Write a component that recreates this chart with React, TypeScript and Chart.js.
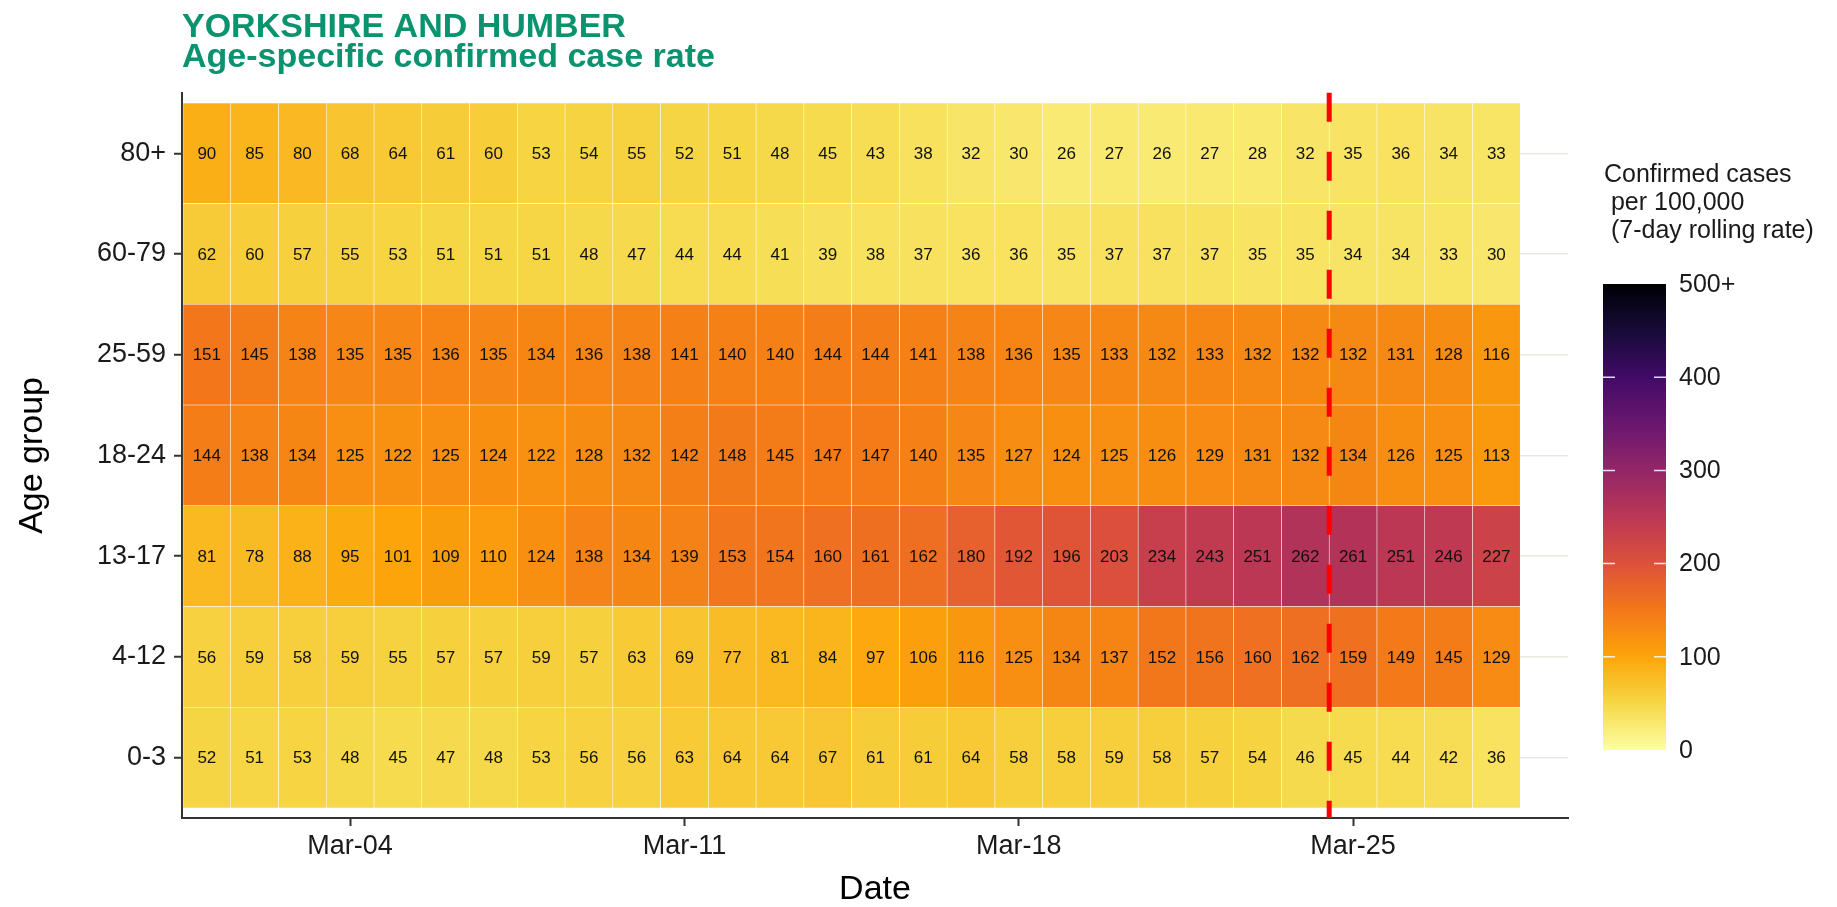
import React, { useEffect, useRef } from 'react';
import { Chart, registerables } from 'chart.js';

Chart.register(...registerables);

const FONT = '"Liberation Sans", Arial, Helvetica, sans-serif';

// ---------- data ----------
const dateLabels = [
  'Mar-01', 'Mar-02', 'Mar-03', 'Mar-04', 'Mar-05', 'Mar-06', 'Mar-07',
  'Mar-08', 'Mar-09', 'Mar-10', 'Mar-11', 'Mar-12', 'Mar-13', 'Mar-14',
  'Mar-15', 'Mar-16', 'Mar-17', 'Mar-18', 'Mar-19', 'Mar-20', 'Mar-21',
  'Mar-22', 'Mar-23', 'Mar-24', 'Mar-25', 'Mar-26', 'Mar-27', 'Mar-28',
];
const dayNumbers = [
  1, 2, 3, 4, 5, 6, 7, 8, 9, 10, 11, 12, 13, 14,
  15, 16, 17, 18, 19, 20, 21, 22, 23, 24, 25, 26, 27, 28,
];
// bottom to top
const ageGroups = ['0-3', '4-12', '13-17', '18-24', '25-59', '60-79', '80+'];

const rate0to3 = [52, 51, 53, 48, 45, 47, 48, 53, 56, 56, 63, 64, 64, 67, 61, 61, 64, 58, 58, 59, 58, 57, 54, 46, 45, 44, 42, 36];
const rate4to12 = [56, 59, 58, 59, 55, 57, 57, 59, 57, 63, 69, 77, 81, 84, 97, 106, 116, 125, 134, 137, 152, 156, 160, 162, 159, 149, 145, 129];
const rate13to17 = [81, 78, 88, 95, 101, 109, 110, 124, 138, 134, 139, 153, 154, 160, 161, 162, 180, 192, 196, 203, 234, 243, 251, 262, 261, 251, 246, 227];
const rate18to24 = [144, 138, 134, 125, 122, 125, 124, 122, 128, 132, 142, 148, 145, 147, 147, 140, 135, 127, 124, 125, 126, 129, 131, 132, 134, 126, 125, 113];
const rate25to59 = [151, 145, 138, 135, 135, 136, 135, 134, 136, 138, 141, 140, 140, 144, 144, 141, 138, 136, 135, 133, 132, 133, 132, 132, 132, 131, 128, 116];
const rate60to79 = [62, 60, 57, 55, 53, 51, 51, 51, 48, 47, 44, 44, 41, 39, 38, 37, 36, 36, 35, 37, 37, 37, 35, 35, 34, 34, 33, 30];
const rate80plus = [90, 85, 80, 68, 64, 61, 60, 53, 54, 55, 52, 51, 48, 45, 43, 38, 32, 30, 26, 27, 26, 27, 28, 32, 35, 36, 34, 33];

const seriesByGroup = [rate0to3, rate4to12, rate13to17, rate18to24, rate25to59, rate60to79, rate80plus];

const xTickDays = [4, 11, 18, 25];
const cutoffDay = 24.5;

const legendTitle = ['Confirmed cases', ' per 100,000', ' (7-day rolling rate)'];
const legendTickValues = [0, 100, 200, 300, 400, 500];
const legendTickLabels = ['0', '100', '200', '300', '400', '500+'];
const legendMax = 500;

// inferno palette (reversed via value mapping)
const infernoStops = [
  '#000004', '#160B39', '#420A68', '#6A176E', '#932667', '#BC3754',
  '#DD513A', '#F37819', '#FCA50A', '#F6D746', '#FCFFA4',
];

function hexToRgb(h: string) {
  return [parseInt(h.slice(1, 3), 16), parseInt(h.slice(3, 5), 16), parseInt(h.slice(5, 7), 16)];
}

function colorFor(v: number) {
  const t = Math.max(0, Math.min(1, 1 - v / legendMax));
  const pos = t * (infernoStops.length - 1);
  const i = Math.min(infernoStops.length - 2, Math.floor(pos));
  const f = pos - i;
  const a = hexToRgb(infernoStops[i]);
  const b = hexToRgb(infernoStops[i + 1]);
  const c = a.map((ch, k) => Math.round(ch + (b[k] - ch) * f));
  return `rgb(${c[0]},${c[1]},${c[2]})`;
}

// ---------- overlay plugin ----------
const overlayPlugin = {
  id: 'overlay',
  afterDatasetsDraw(chart: any) {
    const ctx = chart.ctx;
    ctx.save();
    ctx.font = `17px ${FONT}`;
    ctx.fillStyle = '#111111';
    ctx.textAlign = 'center';
    ctx.textBaseline = 'middle';
    chart.data.datasets.forEach((_ds: any, di: number) => {
      const meta = chart.getDatasetMeta(di);
      meta.data.forEach((el: any, i: number) => {
        const p = el.getProps(['x', 'y', 'base'], true);
        ctx.fillText(String(seriesByGroup[di][i]), p.x, (p.y + p.base) / 2 + 1);
      });
    });

    const xs = chart.scales.x;
    const area = chart.chartArea;
    const cx = xs.getPixelForValue(cutoffDay);
    ctx.strokeStyle = '#FF0000';
    ctx.lineWidth = 5;
    ctx.setLineDash([29, 30]);
    ctx.beginPath();
    ctx.moveTo(cx, area.top);
    ctx.lineTo(cx, area.bottom);
    ctx.stroke();
    ctx.restore();
  },
  afterDraw(chart: any) {
    const ctx = chart.ctx;
    ctx.save();
    // legend title
    ctx.font = `25px ${FONT}`;
    ctx.fillStyle = '#1a1a1a';
    ctx.textAlign = 'left';
    ctx.textBaseline = 'alphabetic';
    const tx = 1604;
    ctx.fillText(legendTitle[0], tx, 182);
    ctx.fillText(legendTitle[1], tx, 210);
    ctx.fillText(legendTitle[2], tx, 238);

    // colour bar
    const barL = 1603, barR = 1666, barTop = 284, barBot = 750;
    const toY = (v: number) => barBot - (v / legendMax) * (barBot - barTop);
    const grad = ctx.createLinearGradient(0, barBot, 0, barTop);
    for (let k = 0; k <= 50; k++) {
      const v = (k / 50) * legendMax;
      grad.addColorStop(k / 50, colorFor(v));
    }
    ctx.fillStyle = grad;
    ctx.fillRect(barL, barTop, barR - barL, barBot - barTop);

    ctx.strokeStyle = 'rgba(255,255,255,0.85)';
    ctx.lineWidth = 1.5;
    legendTickValues.forEach((v) => {
      if (v === 0 || v === legendMax) return;
      const y = toY(v);
      ctx.beginPath();
      ctx.moveTo(barL, y); ctx.lineTo(barL + 12, y);
      ctx.moveTo(barR - 12, y); ctx.lineTo(barR, y);
      ctx.stroke();
    });

    ctx.fillStyle = '#1a1a1a';
    ctx.font = `25px ${FONT}`;
    ctx.textBaseline = 'middle';
    legendTickValues.forEach((v, i) => {
      ctx.fillText(legendTickLabels[i], 1679, toY(v) + 1);
    });
    ctx.restore();
  },
};

export default function App() {
  const canvasRef = useRef<HTMLCanvasElement | null>(null);

  useEffect(() => {
    if (!canvasRef.current) return;
    Chart.defaults.font.family = FONT;
    Chart.defaults.color = '#1a1a1a';

    const datasets = seriesByGroup.map((vals, row) => ({
      label: ageGroups[row],
      data: vals.map((_v, i) => ({ x: dayNumbers[i], y: [row - 0.5, row + 0.5] })),
      backgroundColor: vals.map((v) => colorFor(v)),
      borderColor: 'rgba(255,255,255,0.28)',
      borderWidth: 0.6,
      borderSkipped: false,
      grouped: false,
      barPercentage: 1,
      categoryPercentage: 1,
    }));

    const chart = new Chart(canvasRef.current, {
      type: 'bar',
      data: { datasets: datasets as any },
      options: {
        responsive: false,
        devicePixelRatio: 1,
        animation: false,
        layout: { padding: { left: 0, right: 269, top: 0, bottom: 0 } },
        plugins: {
          legend: { display: false },
          tooltip: { enabled: false },
          title: {
            display: true,
            text: ['YORKSHIRE AND HUMBER', 'Age-specific confirmed case rate'],
            align: 'start',
            fullSize: false,
            color: '#0b936f',
            font: { size: 34, weight: 'bold', lineHeight: 0.88, family: FONT },
            padding: { top: 13, bottom: 20 },
          },
        },
        scales: {
          x: {
            type: 'linear',
            min: 0.48,
            max: 29.5,
            offset: false,
            grid: {
              offset: false,
              drawOnChartArea: false,
              drawTicks: true,
              tickLength: 8,
              tickColor: '#333333',
              tickWidth: 2,
            },
            border: { display: true, color: '#333333', width: 2 },
            afterBuildTicks: (s: any) => {
              s.ticks = xTickDays.map((v) => ({ value: v }));
            },
            ticks: {
              callback: (v: any) => dateLabels[dayNumbers.indexOf(Number(v))],
              font: { size: 27, family: FONT },
              color: '#1a1a1a',
              padding: 4,
              maxRotation: 0,
              autoSkip: false,
            },
            title: {
              display: true,
              text: 'Date',
              color: '#000000',
              font: { size: 34, lineHeight: 1, family: FONT },
              padding: { top: 0, bottom: 0 },
            },
            afterFit: (s: any) => { s.height = 89; },
          },
          y: {
            type: 'linear',
            min: -0.6,
            max: 6.6,
            grid: {
              color: '#E8EADC',
              lineWidth: 1.5,
              drawTicks: true,
              tickLength: 8,
              tickColor: '#333333',
              tickWidth: 2,
            },
            border: { display: true, color: '#333333', width: 2 },
            afterBuildTicks: (s: any) => {
              s.ticks = ageGroups.map((_g, i) => ({ value: i }));
            },
            ticks: {
              callback: (v: any) => ageGroups[Number(v)],
              font: { size: 27, family: FONT },
              color: '#1a1a1a',
              padding: 8,
              autoSkip: false,
            },
            title: {
              display: true,
              text: 'Age group',
              color: '#000000',
              font: { size: 34, lineHeight: 1, family: FONT },
              padding: { top: 16, bottom: 0 },
            },
            afterFit: (s: any) => { s.width = 182; },
          },
        },
      } as any,
      plugins: [overlayPlugin],
    });

    return () => chart.destroy();
  }, []);

  return (
    <div style={{ position: 'absolute', left: 0, top: 0, width: 1837, height: 907, background: '#ffffff' }}>
      <canvas ref={canvasRef} width={1837} height={907} style={{ display: 'block' }} />
    </div>
  );
}
